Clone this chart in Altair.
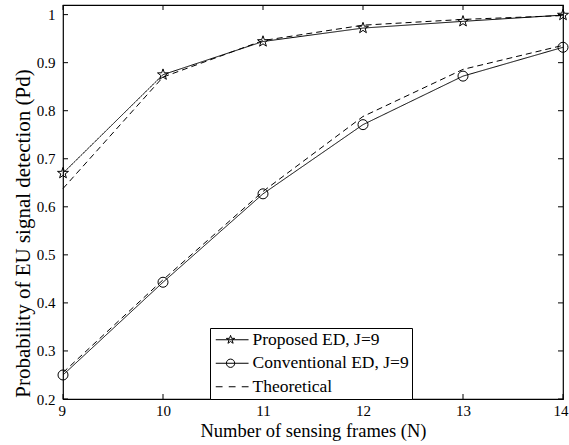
import altair as alt
import pandas as pd

# ---- data ----
N = [9, 10, 11, 12, 13, 14]
proposed = [0.670, 0.875, 0.944, 0.972, 0.986, 0.999]
conventional = [0.250, 0.443, 0.627, 0.771, 0.872, 0.932]
theory_proposed = [0.638, 0.870, 0.946, 0.978, 0.990, 0.998]
theory_conventional = [0.255, 0.448, 0.632, 0.788, 0.886, 0.936]

labels = ["Proposed ED, J=9", "Conventional ED, J=9", "Theoretical"]
x_ticks = [9, 10, 11, 12, 13, 14]
y_ticks = [0.2, 0.3, 0.4, 0.5, 0.6, 0.7, 0.8, 0.9, 1.0]

curves = [
    ("proposed", proposed, labels[0], "solid"),
    ("conventional", conventional, labels[1], "solid"),
    ("theory_p", theory_proposed, labels[2], "dashed"),
    ("theory_c", theory_conventional, labels[2], "dashed"),
]
rows = []
for cid, vals, lab, style in curves:
    for n, v in zip(N, vals):
        rows.append({"N": n, "P": v, "curve": cid, "label": lab, "style": style})
df = pd.DataFrame(rows)

W, H = 500, 394
FONT = "Liberation Serif"

STAR = ("M0,-1.15 L0.27,-0.373 L1.094,-0.355 L0.437,0.143 L0.676,0.93 L0,0.46 "
        "L-0.676,0.93 L-0.437,0.143 L-1.094,-0.355 L-0.27,-0.373 Z")
LEG_STAR = ("M-0.75,0 H3.35 M1.1,-0.55 L1.229,-0.178 L1.623,-0.170 L1.309,0.068 "
            "L1.423,0.445 L1.1,0.22 L0.777,0.445 L0.891,0.068 L0.577,-0.170 L0.971,-0.178 Z")
LEG_CIRC = "M-0.75,0 H3.35 M1.62,0 A0.52,0.52 0 1,1 0.58,0 A0.52,0.52 0 1,1 1.62,0 Z"
LEG_DASH = "M-0.75,0 H0.1 M0.875,0 H1.725 M2.5,0 H3.35"

xscale = alt.Scale(domain=[9, 14], nice=False, zero=False)
yscale = alt.Scale(domain=[0.2, 1.02], nice=False, zero=False)

x_axis = alt.Axis(
    values=x_ticks, format="d", grid=False, domain=False, tickSize=0,
    labelFont=FONT, labelFontSize=15, labelColor="black", labelPadding=4,
    labelFlush=True, labelFlushOffset=5,
    title="Number of sensing frames (N)", titleFont=FONT, titleFontSize=18.5,
    titleFontWeight="normal", titleColor="black", titleY=22, titleBaseline="top",
)
y_axis = alt.Axis(
    values=y_ticks, grid=False, domain=False, tickSize=0,
    labelExpr="datum.value >= 0.999 ? '1' : format(datum.value, '.1f')",
    labelFont=FONT, labelFontSize=15, labelColor="black", labelPadding=8,
    labelFlush=False,
    title="Probability of EU signal detection (Pd)", titleFont=FONT,
    titleFontSize=21, titleFontWeight="normal", titleColor="black",
    titlePadding=3, titleY=228,
)

base = alt.Chart(df)

lines = base.mark_line(color="black", strokeWidth=1).encode(
    x=alt.X("N:Q", scale=xscale, axis=x_axis),
    y=alt.Y("P:Q", scale=yscale, axis=y_axis),
    detail="curve:N",
    strokeDash=alt.StrokeDash(
        "style:N",
        scale=alt.Scale(domain=["solid", "dashed"], range=[[1, 0], [6, 4]]),
        legend=None,
    ),
)

stars = base.transform_filter(alt.datum.curve == "proposed").mark_point(
    shape=STAR, size=100, filled=False, color="black", strokeWidth=1, opacity=1
).encode(x=alt.X("N:Q", scale=xscale, axis=x_axis), y=alt.Y("P:Q", scale=yscale, axis=y_axis))

circles = base.transform_filter(alt.datum.curve == "conventional").mark_point(
    shape="circle", size=100, filled=False, color="black", strokeWidth=1, opacity=1
).encode(x=alt.X("N:Q", scale=xscale, axis=x_axis), y=alt.Y("P:Q", scale=yscale, axis=y_axis))

legend_layer = base.mark_point(opacity=0).encode(
    x=alt.X("N:Q", scale=xscale, axis=x_axis),
    y=alt.Y("P:Q", scale=yscale, axis=y_axis),
    shape=alt.Shape(
        "label:N",
        scale=alt.Scale(domain=labels, range=[LEG_STAR, LEG_CIRC, LEG_DASH]),
        legend=alt.Legend(
            title=None, orient="none", legendX=147, legendY=323,
            labelFont=FONT, labelFontSize=17.5, labelColor="black",
            symbolSize=256, symbolStrokeColor="black", symbolFillColor="transparent",
            symbolStrokeWidth=1, symbolOpacity=1,
            strokeColor="black", fillColor="white", padding=3,
            rowPadding=4.5, labelOffset=22,
        ),
    ),
)

xt = pd.DataFrame({"N": x_ticks})
yt = pd.DataFrame({"P": y_ticks})
tick_bottom = alt.Chart(xt).mark_rule(color="black", strokeWidth=1).encode(
    x=alt.X("N:Q", scale=xscale, axis=x_axis), y=alt.value(H), y2=alt.value(H - 5))
tick_top = alt.Chart(xt).mark_rule(color="black", strokeWidth=1).encode(
    x=alt.X("N:Q", scale=xscale, axis=x_axis), y=alt.value(0), y2=alt.value(5))
tick_left = alt.Chart(yt).mark_rule(color="black", strokeWidth=1).encode(
    y=alt.Y("P:Q", scale=yscale, axis=y_axis), x=alt.value(0), x2=alt.value(5))
tick_right = alt.Chart(yt).mark_rule(color="black", strokeWidth=1).encode(
    y=alt.Y("P:Q", scale=yscale, axis=y_axis), x=alt.value(W), x2=alt.value(W - 5))

chart = alt.layer(
    lines, stars, circles, legend_layer, tick_bottom, tick_top, tick_left, tick_right
).properties(
    width=W, height=H,
    autosize=alt.AutoSizeParams(type="none"),
    padding={"left": 63, "top": 5, "right": 6, "bottom": 46},
    background="white",
).configure_view(
    stroke="black", strokeWidth=1.2
).configure_axis(
    labelFont=FONT, titleFont=FONT
).configure_legend(
    labelFont=FONT
).configure_text(font=FONT)

chart.save("out.html", embed_options={"renderer": "svg", "actions": False})
